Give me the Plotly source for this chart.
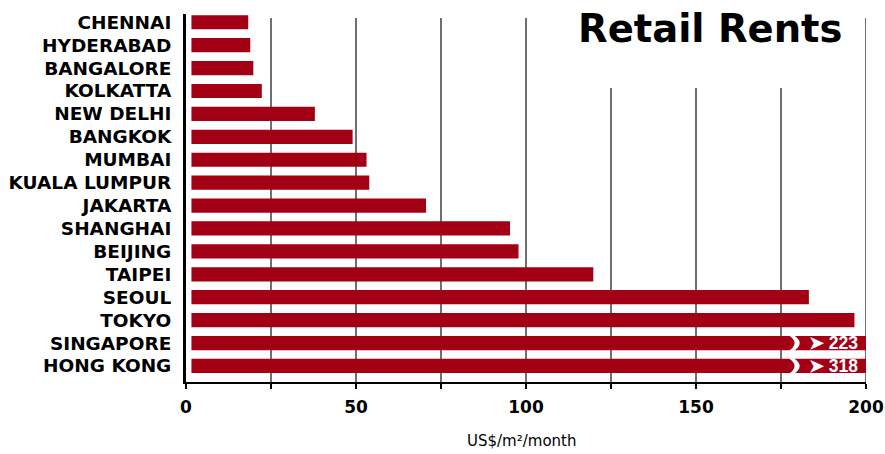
import plotly.graph_objects as go

# ---- data ----
cities = ["CHENNAI", "HYDERABAD", "BANGALORE", "KOLKATTA", "NEW DELHI", "BANGKOK",
          "MUMBAI", "KUALA LUMPUR", "JAKARTA", "SHANGHAI", "BEIJING", "TAIPEI",
          "SEOUL", "TOKYO", "SINGAPORE", "HONG KONG"]
rents = [18.3, 18.9, 19.8, 22.3, 37.9, 49.0, 53.1, 53.9, 70.6, 95.3, 97.8, 119.8,
         183.2, 196.6, 223, 318]
x_tickvals = [0, 25, 50, 75, 100, 125, 150, 175, 200]
x_ticktext = ["0", "", "50", "", "100", "", "150", "", "200"]

# ---- style ----
BAR_COLOR = "#A30016"
AXIS_MAX = 200
BAR_INSET = 1.6          # small gap between axis line and bars
BAR_WIDTH = 0.62
GRID_TOP = 0.989         # paper y
GRID_TOP_UNDER_TITLE = 0.799
SHORT_GRID = {125, 150, 175}
FONT = "DejaVu Sans"

ypos = list(range(len(cities)))

fig = go.Figure()
fig.add_trace(go.Bar(
    y=ypos,
    x=[v - BAR_INSET for v in rents],
    base=BAR_INSET,
    orientation="h",
    width=BAR_WIDTH,
    marker=dict(color=BAR_COLOR, line=dict(width=0)),
    hoverinfo="skip",
    showlegend=False,
))

shapes = []
# vertical gridlines
for gv in x_tickvals[1:]:
    top = GRID_TOP_UNDER_TITLE if gv in SHORT_GRID else GRID_TOP
    shapes.append(dict(type="line", xref="x", yref="paper", x0=gv, x1=gv,
                       y0=0, y1=top, layer="below",
                       line=dict(color="#222222", width=1.3)))

annotations = []
# breaks + value labels for bars beyond axis
for yi, v in zip(ypos, rents):
    if v > AXIS_MAX:
        x0, w, b, h = 177.3, 1.5, 3.4, 0.34
        path = (f"M {x0},{yi-h} Q {x0+b},{yi} {x0},{yi+h} "
                f"L {x0+w},{yi+h} Q {x0+w+b},{yi} {x0+w},{yi-h} Z")
        shapes.append(dict(type="path", xref="x", yref="y", path=path,
                           fillcolor="white", line=dict(width=0), layer="above"))
        annotations.append(dict(xref="x", yref="y", x=AXIS_MAX, y=yi,
                                xanchor="right", yanchor="middle", xshift=-6,
                                text=f"➤ {v:.0f}", showarrow=False,
                                font=dict(family="Liberation Sans", size=17.5,
                                          color="white", weight="bold")))

annotations.append(dict(xref="paper", yref="paper", x=0.968, y=0.96,
                        xanchor="right", yanchor="middle", showarrow=False,
                        text="Retail Rents",
                        font=dict(family=FONT, size=38.5, color="black", weight="bold")))
annotations.append(dict(xref="paper", yref="paper", x=0.493, y=0, yshift=-59,
                        xanchor="center", yanchor="middle", showarrow=False,
                        text="US$/m²/month",
                        font=dict(family=FONT, size=15, color="black")))

fig.update_layout(
    width=885, height=454,
    margin=dict(l=186, r=19, t=14, b=72),
    paper_bgcolor="white", plot_bgcolor="white",
    bargap=0.38,
    shapes=shapes,
    annotations=annotations,
    xaxis=dict(range=[0, AXIS_MAX], tickvals=x_tickvals, ticktext=x_ticktext,
               automargin=False,
               showgrid=False, zeroline=False, showline=True, linecolor="black",
               linewidth=2, ticks="outside", ticklen=5, tickwidth=2,
               tickcolor="black", ticklabelstandoff=4,
               tickfont=dict(family=FONT, size=17, color="black", weight="bold")),
    yaxis=dict(range=[15.70, -0.36], tickvals=ypos, ticktext=cities,
               automargin=False,
               showgrid=False, zeroline=False, showline=True, linecolor="black",
               linewidth=3, ticks="", ticklabelstandoff=8,
               tickfont=dict(family=FONT, size=18.5, color="black", weight="bold")),
)

fig.write_html("out.html")
